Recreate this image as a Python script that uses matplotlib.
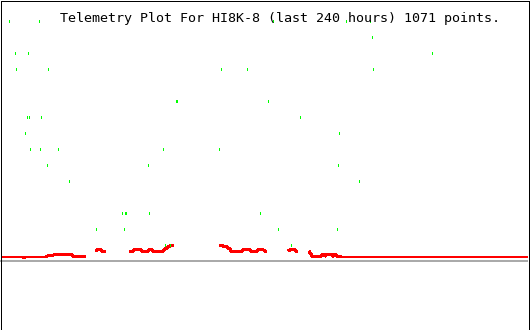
import numpy as np
import matplotlib
matplotlib.use("Agg")
import matplotlib.pyplot as plt
from matplotlib.patches import Rectangle
from matplotlib.transforms import IdentityTransform

TITLE = "Telemetry Plot For HI8K-8 (last 240 hours) 1071 points."

# sparse green readings: hours into the window, level
green_hours = [3.6, 6.4, 6.8, 10.9, 11.8, 12.3, 12.7, 13.2, 17.3, 17.7, 18.2,
               20.9, 21.4, 25.9, 30.9, 43.2, 55.0, 55.9, 56.4, 56.8, 66.8,
               67.3, 73.6, 74.5, 76.8, 79.5, 80.0, 99.1, 100.0, 111.8, 117.7,
               121.4, 123.6, 125.9, 131.8, 135.9, 152.7, 153.2, 153.6, 156.8,
               162.7, 167.7, 168.6, 169.1, 195.9]
green_level = [150, 130, 120, 80, 90, 130, 90, 70, 150, 70, 90,
               60, 120, 70, 50, 20, 30, 20, 30, 30, 60,
               30, 70, 10, 10, 100, 100, 70, 120, 120, 30,
               100, 150, 20, 10, 90, 20, 60, 80, 150,
               50, 150, 140, 120, 130]

# red trace, NaN marks a gap in the data
nan = np.nan
red_hours = [0.0, 10.0, 10.5, 10.9, 20.5, 20.9, 24.1,
             32.3, 32.7, 38.2,
             nan,
             43.2, 43.6, 45.5, 45.9, 47.3,
             nan,
             58.2, 60.0, 60.2, 63.6, 63.9, 66.8, 67.0, 68.6, 68.9, 73.6, 74.1,
             74.5, 75.5, 75.9, 76.8, 78.2,
             nan,
             99.5, 100.9, 101.4, 102.7, 103.2, 103.6, 104.1, 104.5, 109.5,
             110.0, 113.2, 113.6, 116.4, 116.8, 119.5, 120.0, 120.9,
             nan,
             130.5, 131.4, 133.6, 134.1, 135.0,
             nan,
             140.0, 140.5, 140.9, 141.4, 145.5, 145.9, 146.8, 147.3, 147.7,
             150.5, 150.9, 151.4, 152.3, 152.7, 154.1, 154.5, 239.5]
red_value = [2.5, 2.5, 1.9, 2.5, 2.5, 3.1, 3.8,
             3.8, 3.1, 3.1,
             nan,
             6.2, 6.9, 6.9, 6.2, 6.2,
             nan,
             6.2, 6.2, 6.9, 6.9, 6.2, 6.2, 6.9, 6.9, 6.2, 6.2, 6.9,
             7.5, 8.1, 8.8, 9.4, 9.4,
             nan,
             9.4, 9.4, 8.8, 8.8, 8.1, 8.1, 7.5, 6.2, 6.2,
             6.9, 6.9, 6.2, 6.2, 6.9, 6.9, 6.2, 6.2,
             nan,
             6.2, 6.9, 6.9, 6.2, 6.2,
             nan,
             6.2, 5.0, 4.4, 3.1, 3.1, 3.8, 3.8, 3.1, 3.8,
             3.8, 3.1, 3.8, 3.8, 3.1, 3.1, 2.5, 2.5]

W, H, DPI = 530, 330, 100
PX = 72 / DPI  # one pixel in points

fig = plt.figure(figsize=(W / DPI, H / DPI), dpi=DPI)
fig.patch.set_facecolor("white")
ax = fig.add_axes([0, 0, 1, 1])
ax.set_axis_off()
ax.set_xlim(-1 / 2.2, 529 / 2.2)
ax.set_ylim(-69 / 1.6, 261 / 1.6)

# zero line
ax.hlines(0, -1 / 2.2, 239.5, colors="#aaaaaa", linewidth=2 * PX,
          antialiased=False)

ax.plot(red_hours, red_value, color="#ff0000", linewidth=2 * PX,
        antialiased=False, solid_capstyle="butt")

gh = np.array(green_hours)
gl = np.array(green_level, dtype=float)
ax.vlines(gh, gl - 0.75, gl + 0.75, colors="#00ff00", linewidth=PX,
          antialiased=False)

fig.text(60 / W, 1 - 22 / H, TITLE, family="DejaVu Sans Mono", fontsize=9.6,
         color="black", ha="left", va="baseline")

fig.add_artist(Rectangle((0.5, 0.5), 528, 329, transform=IdentityTransform(),
                         fill=False, edgecolor="black", linewidth=PX,
                         antialiased=False))

fig.savefig("out.png", dpi=DPI, facecolor="white")
